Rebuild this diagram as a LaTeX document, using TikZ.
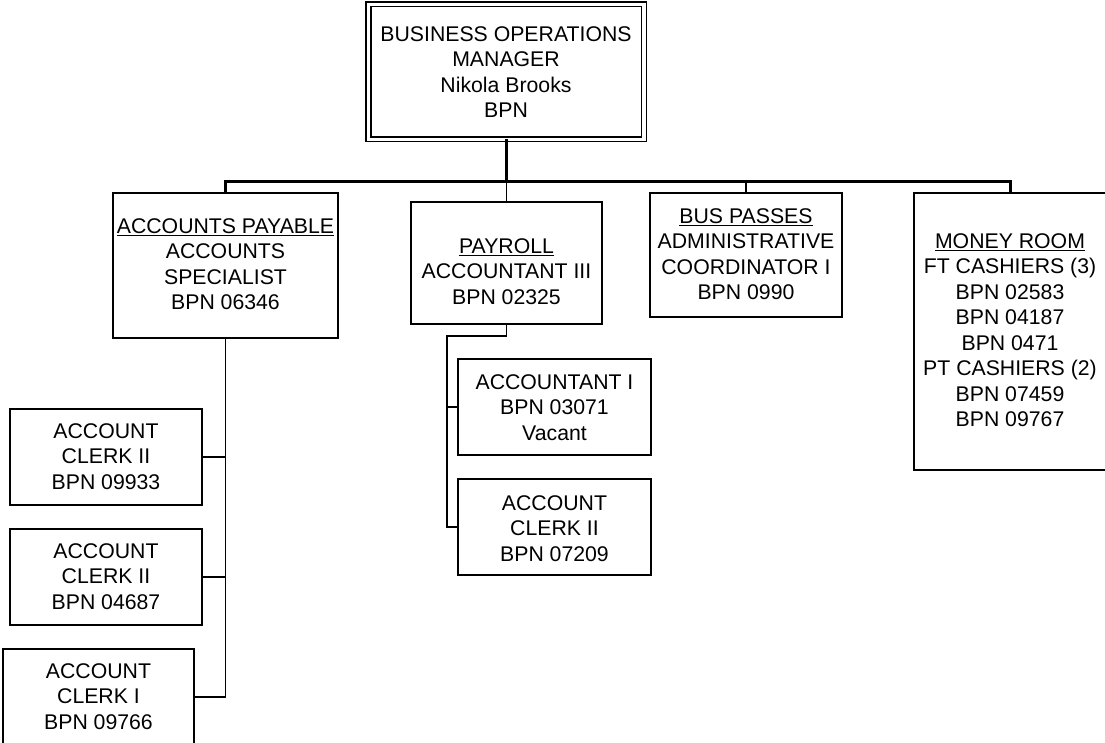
\documentclass[tikz,border=0pt]{standalone}
\usepackage{fontspec}
\setmainfont{Liberation Sans}
\newcommand\ulx[1]{\setbox0\hbox{#1}\rlap{\rule[-2.8pt]{\wd0}{1.3pt}}\box0}
\begin{document}
\begin{tikzpicture}[x=1pt,y=-1pt,
  box/.style={draw, line width=1.8pt, rectangle, inner sep=0pt, outer sep=0pt},
  txt/.style={anchor=north, inner sep=0pt, align=center, font=\fontsize{21.25}{25.5}\selectfont},
  conn/.style={line width=1.8pt},
  main/.style={line width=2.6pt}]
\useasboundingbox (0,0) rectangle (1105,743);

% top
\node[box, double, double distance=3.2pt, line width=1.6pt, minimum width=275.5pt, minimum height=135pt] (bom) at (506.25,71.75) {};
\node[txt] (bomt) at (506,26) {BUSINESS OPERATIONS\\MANAGER\\Nikola Brooks\\BPN};

% second level
\node[box, minimum width=225pt, minimum height=145pt] (ap) at (225.5,265.5) {};
\node[txt] (apt) at (225.5,218.3) {\ulx{ACCOUNTS PAYABLE}\\ACCOUNTS\\SPECIALIST\\BPN 06346};

\node[box, minimum width=191pt, minimum height=122pt] (pr) at (506.5,263) {};
\node[txt] (prt) at (506.5,238.3) {\ulx{PAYROLL}\\ACCOUNTANT III\\BPN 02325};

\node[box, minimum width=192pt, minimum height=124pt] (bp) at (746,255) {};
\node[txt] (bpt) at (746,208.3) {\ulx{BUS PASSES}\\ADMINISTRATIVE\\COORDINATOR I\\BPN 0990};

\node[box, minimum width=193pt, minimum height=277pt] (mr) at (1010.5,331.5) {};
\node[txt] (mrt) at (1010,233.3) {\ulx{MONEY ROOM}\\FT CASHIERS (3)\\BPN 02583\\BPN 04187\\BPN 0471\\PT CASHIERS (2)\\BPN 07459\\BPN 09767};

% accounts payable children
\node[box, minimum width=192pt, minimum height=96pt] (c1) at (106,457) {};
\node[txt] (c1t) at (106,423.3) {ACCOUNT\\CLERK II\\BPN 09933};
\node[box, minimum width=192pt, minimum height=96pt] (c2) at (106,577) {};
\node[txt] (c2t) at (106,543.3) {ACCOUNT\\CLERK II\\BPN 04687};
\node[box, minimum width=191pt, minimum height=96pt] (c3) at (98.5,697) {};
\node[txt] (c3t) at (98.5,663.3) {ACCOUNT\\CLERK I\\BPN 09766};

% payroll children
\node[box, minimum width=193pt, minimum height=96pt] (k1) at (554.5,407) {};
\node[txt] (k1t) at (554.5,374) {ACCOUNTANT I\\BPN 03071\\Vacant};
\node[box, minimum width=193pt, minimum height=96pt] (k2) at (554.5,527) {};
\node[txt] (k2t) at (554.5,495) {ACCOUNT\\CLERK II\\BPN 07209};

% connectors
\coordinate (bar) at (506,181.7);
\coordinate (prj) at (447,336);
\draw[main] (bom.south) -- (bom.south |- bar);
\draw[main] (ap.north) -- (ap.north |- bar) -- (mr.north |- bar) -- (mr.north);
\draw[conn] (pr.north) -- (pr.north |- bar);
\draw[conn] (bp.north) -- (bp.north |- bar);

\draw[conn] (ap.south) -- (ap.south |- c3.east) -- (c3.east);
\draw[conn] (c1.east) -- (c1.east -| ap.south);
\draw[conn] (c2.east) -- (c2.east -| ap.south);

\draw[conn] (pr.south) |- (prj) -- (prj |- k2.west) -- (k2.west);
\draw[conn] (k1.west) -- (k1.west -| prj);
\end{tikzpicture}
\end{document}
